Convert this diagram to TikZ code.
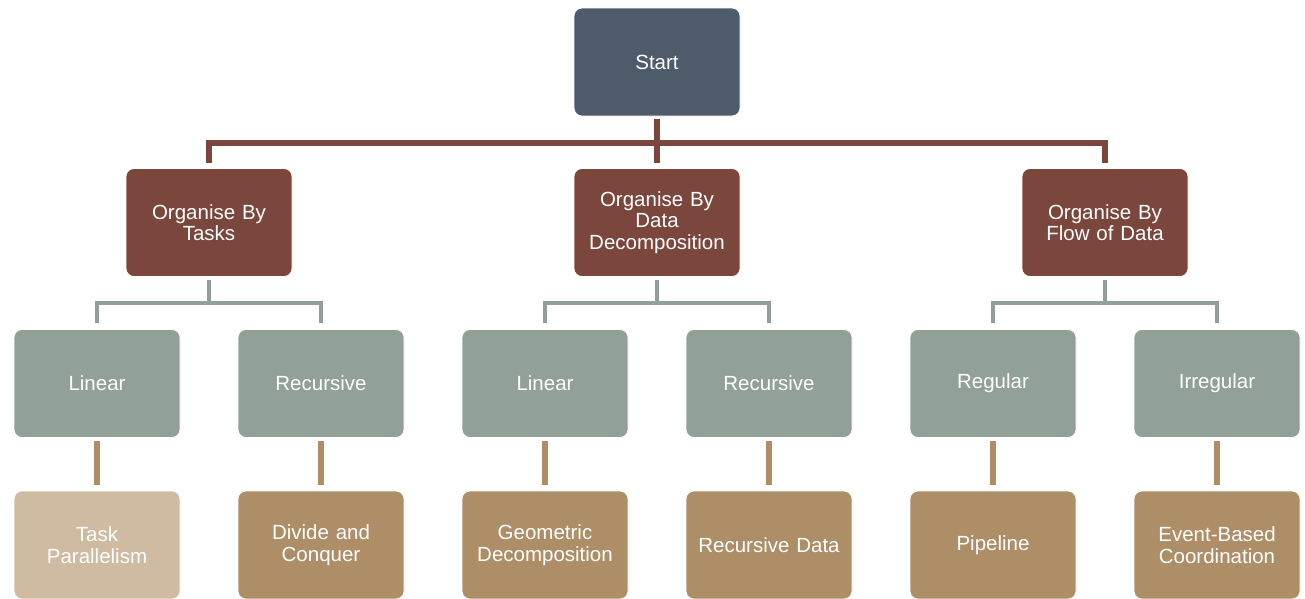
\documentclass[tikz,border=0pt]{standalone}
\usepackage{fontspec}
\setmainfont{Liberation Sans}
\usetikzlibrary{calc}

\definecolor{slate}{HTML}{4D5B6B}
\definecolor{rust}{HTML}{7B463C}
\definecolor{sage}{HTML}{92A198}
\definecolor{tan}{HTML}{AD8E66}
\definecolor{lighttan}{HTML}{CFBBA2}

\tikzset{
  box/.style={rounded corners=8pt, draw=white, line width=0.8pt,
    minimum width=166pt, minimum height=108pt, text width=150pt, align=center,
    text=white, font=\fontsize{20.5}{21.5}\selectfont, inner sep=0pt},
  rootbox/.style={box, fill=slate},
  groupbox/.style={box, fill=rust},
  kindbox/.style={box, fill=sage},
  leafbox/.style={box, fill=tan},
  paleleaf/.style={box, fill=lighttan},
  rustline/.style={draw=rust, line width=6pt, line join=miter},
  sageline/.style={draw=sage, line width=4.5pt, line join=miter},
  tanline/.style={draw=tan, line width=5.5pt}
}

\begin{document}
\begin{tikzpicture}[x=1pt, y=-1pt]
\useasboundingbox (0,0) rectangle (1305,598);

% root
\node[rootbox] (start) at (657,62) {Start};

% groups
\node[groupbox] (g1) at (209,222.5) {Organise By\\Tasks};
\node[groupbox] (g2) at (657,222.5) {Organise By\\Data\\Decomposition};
\node[groupbox] (g3) at (1105,222.5) {Organise By\\Flow of Data};

% kinds
\node[kindbox] (k1) at (97,383.5) {Linear};
\node[kindbox] (k2) at (321,383.5) {Recursive};
\node[kindbox] (k3) at (545,383.5) {Linear};
\node[kindbox] (k4) at (769,383.5) {Recursive};
\node[kindbox] (k5) at (993,383.5) {Regular};
\node[kindbox] (k6) at (1217,383.5) {Irregular};

% patterns
\node[paleleaf] (p1) at (97,545) {Task\\Parallelism};
\node[leafbox] (p2) at (321,545) {Divide and\\Conquer};
\node[leafbox] (p3) at (545,545) {Geometric\\Decomposition};
\node[leafbox] (p4) at (769,545) {Recursive Data};
\node[leafbox] (p5) at (993,545) {Pipeline};
\node[leafbox] (p6) at (1217,545) {Event-Based\\Coordination};

% root to groups
\coordinate (rb) at ($(start.south)!0.5!(g2.north)+(0,1)$);
\draw[rustline] ([yshift=-3pt]start.south) -- ([yshift=5.5pt]g2.north);
\draw[rustline] ([yshift=5.5pt]g1.north) |- (rb) -| ([yshift=5.5pt]g3.north);

% groups to kinds
\foreach \g/\a/\b in {g1/k1/k2, g2/k3/k4, g3/k5/k6} {
  \coordinate (sb) at ($(\g.south)!0.5!(\a.north)$);
  \draw[sageline] ([yshift=-3.5pt]\g.south) -- (sb -| \g.south);
  \draw[sageline] ([yshift=6pt]\a.north) |- (sb) -| ([yshift=6pt]\b.north);
}

% kinds to patterns
\foreach \k/\p in {k1/p1, k2/p2, k3/p3, k4/p4, k5/p5, k6/p6}
  \draw[tanline] ([yshift=-3.5pt]\k.south) -- ([yshift=6pt]\p.north);
\end{tikzpicture}
\end{document}
